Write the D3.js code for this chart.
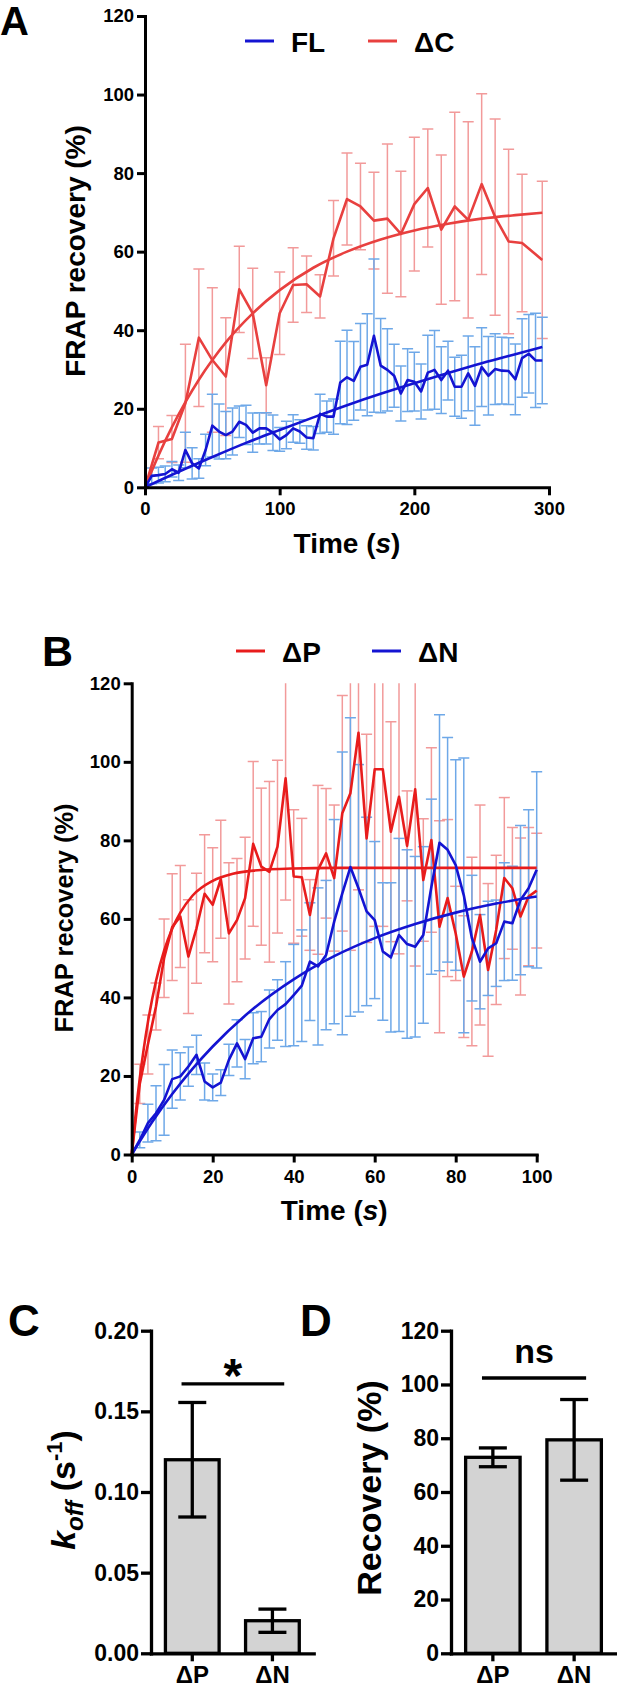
<!DOCTYPE html>
<html>
<head>
<meta charset="utf-8">
<script src="https://cdn.jsdelivr.net/npm/d3@7"></script>
<style>
body { margin: 0; background: #fff; }
text { font-family: "Liberation Sans", Arial, sans-serif; font-weight: bold; }
</style>
</head>
<body>
<div id="chart"></div>
<script>
// ---- panel A : FL vs deltaC, 0-300 s ----
var timeFL = [0,5,10,15,20,25,30,35,40,45,50,55,60,65,70,75,80,85,90,95,100,105,110,115,120,125,130,135,140,145,
              150,155,160,165,170,175,180,185,190,195,200,205,210,215,220,225,230,235,240,245,250,255,260,265,270,275,280,285,290,295];
var meanFL = [0,2.9,3.1,3.4,4.6,3.7,9.5,6.1,4.8,9.5,15.7,14.2,13.3,14.2,16.7,15.9,13.9,15.0,15.0,13.9,12.2,13.3,15.0,14.2,12.7,12.5,18.7,18.0,18.0,26.7,
              28.0,27.1,30.7,31.2,38.6,31.0,29.9,28.4,23.9,27.3,26.9,24.4,29.2,29.9,27.3,29.7,25.6,25.6,29.0,25.8,30.6,28.4,30.1,29.7,29.6,27.5,32.9,34.0,32.3,32.3];
var errFL  = [0,2,2,2,2,2,4.5,4,2.5,4,8,7,6,6,4,5,5,4,4,4.5,3,3.5,3.5,3,3,3,5,4,4.5,10.5,
              12,10,11,13,19.5,12,10.5,8,7,8,7.5,7,9.5,10,8.5,7.5,7.5,8,9.5,10,10,10,9,8.5,8.5,9,10,10,12,11];
var timeDC = [0,10,20,30,40,50,60,70,80,90,100,110,120,130,140,150,160,170,180,190,200,210,220,230,240,250,260,270,280,295];
var meanDC = [0,11.4,12.3,21.4,38.1,32.4,28.2,50.4,44.3,26,44.3,51.5,51.7,48.6,63.4,73.4,71.5,67.9,68.4,64.5,72.1,76.2,65.6,71.5,68.1,77.2,68.8,62.6,62.2,57.9];
var errDC  = [0,4.1,6,15,17.5,18.4,15,11,11.5,7,10.5,9.5,7.2,5.5,9.6,11.7,11,12.3,19,16,17,15,19,24,25,23,25,23.5,17.5,20];
var fitTimeFL = [0,25,50,75,100,125,150,175,200,225,250,275,295];
var fitFL     = [0,3.95,7.7,11.3,14.6,17.8,20.9,23.8,26.5,29.1,31.6,33.9,35.7];
var fitTimeDC = [0,10,20,30,40,50,60,80,100,125,150,175,200,225,250,275,295];
var fitDC     = [0,8.1,15.3,21.7,27.4,32.4,36.9,44.3,50.2,55.9,60.0,63.1,65.4,67.1,68.4,69.3,69.9];

// ---- panel B : deltaP vs deltaN, 0-100 s ----
var timeB = [0,2,4,6,8,10,12,14,16,18,20,22,24,26,28,30,32,34,36,38,40,42,44,46,48,50,
             52,54,56,58,60,62,64,66,68,70,72,74,76,78,80,82,84,86,88,90,92,94,96,98,100];
var meanDP = [0,18,28,37.7,50,57.9,60.6,50.4,57.6,66.4,63.6,70.1,56.3,59.7,65.3,79.1,73.3,72.0,78.4,95.8,70.8,70.6,61.0,72.5,76.7,70.4,
              86.9,92.0,107.4,80.5,98.1,98.1,82.2,91.1,78.6,93.0,69.9,80.1,58.0,65.3,56.3,45.3,51.7,61.0,47.0,57.2,70.4,67.8,60.6,65.7,67.2];
var errDP  = [0,5,7.5,6,10,13.6,13,14.5,14,15,14.5,15,18,15.7,15.5,21,20,23,22,31,17,15,9,21.5,16.5,18.6,
              30,40,40,26.5,40,40,28,40,14,45,15.6,23.5,27,20,12,15.5,24,28,22,19,20.5,15.5,20,17.6,14.6];
var meanDN = [0,3.7,8,10.5,13.9,19.2,19.9,22.4,25.4,18.6,17.1,18.3,24.1,28.3,24.3,29.6,30.0,34.5,36.8,38.3,40.6,43.0,49.1,47.9,50.8,59.3,
              66.5,73.2,67.8,61.9,59.7,51.7,50.2,55.9,53.6,52.9,55.9,68.2,79.4,77.6,73.7,66,55.1,49.1,52.5,53.8,59.3,58.9,64.8,67.8,72.5];
var errDN  = [0,2,4.8,7,9,7.4,6,5,5,4.7,3.4,3.3,4,6,5,6.5,6.4,7.4,7.7,10.8,12.9,14.2,15,20,19,26,
              36,38,31.5,24,20,17.5,19,24.6,24,23,22.5,22.3,32.6,28.6,26.8,35,16,12,12,11,15,14.5,19,20,25];
var fitTimeDP = [0,1,2,3,4,6,8,10,12,15,20,25,30,40,50,100];
var fitDP     = [0,10.5,19.5,27.1,33.7,44.2,51.9,57.5,61.6,65.9,69.7,71.5,72.3,72.85,73,73];
var fitTimeDN = [0,5,10,15,20,30,40,50,60,70,80,90,100];
var fitDN     = [0,8.2,15.4,21.8,27.5,37.1,44.6,50.5,55.1,58.7,61.6,63.9,65.7];

// ---- panels C and D : bar charts ----
var barGroups = ["\u0394P", "\u0394N"];
var koffMean = [0.120, 0.0202];
var koffErr  = [0.0355, 0.0072];
var recMean  = [72.9, 79.4];
var recErr   = [3.5, 15];
var sigLevels = [0.167, 102.4];   // height of the comparison bars in C and D
var sigLabels = ["*", "ns"];

var ticksA = [0, 100, 200, 300];
var ticksB = [0, 20, 40, 60, 80, 100];
var ticksY = [0, 20, 40, 60, 80, 100, 120];
var ticksKoff = [0, 0.05, 0.10, 0.15, 0.20];

var FONT = '"Liberation Sans", Arial, sans-serif';
var BLUE = "#1414d2", BLUE_ERR = "#6ea8e8";
var RED_A = "#e8403f", RED_B = "#e81c1c", RED_ERR = "#f29a9a";

var svg = d3.select("#chart").append("svg")
    .attr("width", 617).attr("height", 1690)
    .style("background", "#fff");

function styleAxis(g, fs, sw) {
    g.attr("font-family", null).attr("font-size", null);
    g.select(".domain").attr("stroke", "#000").attr("stroke-width", sw).attr("stroke-linecap", "square");
    g.selectAll(".tick line").attr("stroke", "#000").attr("stroke-width", sw);
    g.selectAll(".tick text").attr("fill", "#000")
        .style("font-family", FONT).style("font-size", fs + "px").style("font-weight", "bold");
}

function timeLabel(x, y) {
    var t = svg.append("text").attr("x", x).attr("y", y).attr("text-anchor", "middle")
        .style("font-size", "28px");
    t.append("tspan").text("Time (");
    t.append("tspan").style("font-style", "italic").text("s");
    t.append("tspan").text(")");
}

function linePanel(p) {
    var x = d3.scaleLinear().domain(p.xDomain).range(p.xRange);
    var y = d3.scaleLinear().domain([0, 120]).range(p.yRange);
    var g = svg.append("g");

    var clipId = "clip" + p.id;
    svg.append("clipPath").attr("id", clipId).append("rect")
        .attr("x", p.xRange[0] - 20).attr("y", p.yRange[1])
        .attr("width", p.xRange[1] - p.xRange[0] + 40).attr("height", p.yRange[0] - p.yRange[1] + 2);
    var plot = g.append("g").attr("clip-path", "url(#" + clipId + ")");

    // error bars first
    p.series.forEach(function (s) {
        var eb = plot.append("g").attr("stroke", s.errColor).attr("stroke-width", 1.5).attr("fill", "none");
        s.time.forEach(function (t, i) {
            if (s.err[i] <= 0) return;
            var cx = x(t), top = y(s.mean[i] + s.err[i]), bot = y(s.mean[i] - s.err[i]);
            eb.append("line").attr("x1", cx).attr("x2", cx).attr("y1", top).attr("y2", bot);
            eb.append("line").attr("x1", cx - 5.5).attr("x2", cx + 5.5).attr("y1", top).attr("y2", top);
            eb.append("line").attr("x1", cx - 5.5).attr("x2", cx + 5.5).attr("y1", bot).attr("y2", bot);
        });
    });

    var line = d3.line().x(function (d) { return x(d[0]); }).y(function (d) { return y(d[1]); });
    var fitLine = d3.line().curve(d3.curveMonotoneX)
        .x(function (d) { return x(d[0]); }).y(function (d) { return y(d[1]); });

    p.series.forEach(function (s) {
        plot.append("path").datum(d3.zip(s.time, s.mean)).attr("d", line)
            .attr("fill", "none").attr("stroke", s.color).attr("stroke-width", 2.6).attr("stroke-linejoin", "round");
        plot.append("path").datum(d3.zip(s.fitTime, s.fit)).attr("d", fitLine)
            .attr("fill", "none").attr("stroke", s.color).attr("stroke-width", 2.6);
    });

    var ax = g.append("g").attr("transform", "translate(0," + p.yRange[0] + ")")
        .call(d3.axisBottom(x).tickValues(p.xTicks).tickSize(8).tickSizeOuter(0).tickPadding(7));
    styleAxis(ax, 18.5, 3);
    var ay = g.append("g").attr("transform", "translate(" + p.xRange[0] + ",0)")
        .call(d3.axisLeft(y).tickValues(ticksY).tickSize(8).tickSizeOuter(0).tickPadding(3));
    styleAxis(ay, 18.5, 3);

    svg.append("text").attr("transform", "translate(" + p.yTitle[0] + "," + p.yTitle[1] + ") rotate(-90)")
        .attr("text-anchor", "middle").style("font-size", p.yTitle[2] + "px").text("FRAP recovery (%)");
    timeLabel((p.xRange[0] + p.xRange[1]) / 2, p.xTitleY);

    svg.append("text").attr("x", p.letter[0]).attr("y", p.letter[1]).style("font-size", p.letter[2] + "px").text(p.id);

    p.legend.forEach(function (l) {
        svg.append("line").attr("x1", l.x).attr("x2", l.x + 29).attr("y1", l.y).attr("y2", l.y)
            .attr("stroke", l.color).attr("stroke-width", 3);
        svg.append("text").attr("x", l.x + 46).attr("y", l.y + 11).style("font-size", "28px").text(l.label);
    });
}

linePanel({
    id: "A", xDomain: [0, 300], xRange: [145, 549], yRange: [487.3, 16], xTicks: ticksA,
    yTitle: [85, 251, 28], xTitleY: 553, letter: [0, 35, 40],
    series: [
        { time: timeDC, mean: meanDC, err: errDC, fitTime: fitTimeDC, fit: fitDC, color: RED_A, errColor: RED_ERR },
        { time: timeFL, mean: meanFL, err: errFL, fitTime: fitTimeFL, fit: fitFL, color: BLUE, errColor: BLUE_ERR }
    ],
    legend: [
        { x: 245, y: 41, color: BLUE, label: "FL" },
        { x: 368, y: 41, color: RED_A, label: "\u0394C" }
    ]
});

linePanel({
    id: "B", xDomain: [0, 100], xRange: [131.7, 536.7], yRange: [1154.5, 683.3], xTicks: ticksB,
    yTitle: [72.5, 918, 25.5], xTitleY: 1220, letter: [42, 666, 43],
    series: [
        { time: timeB, mean: meanDP, err: errDP, fitTime: fitTimeDP, fit: fitDP, color: RED_B, errColor: RED_ERR },
        { time: timeB, mean: meanDN, err: errDN, fitTime: fitTimeDN, fit: fitDN, color: BLUE, errColor: BLUE_ERR }
    ],
    legend: [
        { x: 236, y: 651, color: RED_B, label: "\u0394P" },
        { x: 372, y: 651, color: BLUE, label: "\u0394N" }
    ]
});

function barPanel(p) {
    var x = d3.scaleBand().domain(barGroups).range(p.xRange).paddingInner(0.33).paddingOuter(0.18);
    var y = d3.scaleLinear().domain(p.yDomain).range([1653.3, 1330.7]);
    var g = svg.append("g");
    var bw = x.bandwidth();

    g.selectAll("rect.bar").data(barGroups).enter().append("rect")
        .attr("x", function (d) { return x(d); })
        .attr("y", function (d, i) { return y(p.mean[i]); })
        .attr("width", bw)
        .attr("height", function (d, i) { return y(0) - y(p.mean[i]); })
        .attr("fill", "#d3d3d3").attr("stroke", "#000").attr("stroke-width", 3.3);

    barGroups.forEach(function (d, i) {
        var cx = x(d) + bw / 2, top = y(p.mean[i] + p.err[i]), bot = y(p.mean[i] - p.err[i]);
        var eb = g.append("g").attr("stroke", "#000").attr("stroke-width", 3.3);
        eb.append("line").attr("x1", cx).attr("x2", cx).attr("y1", top).attr("y2", bot);
        eb.append("line").attr("x1", cx - 14).attr("x2", cx + 14).attr("y1", top).attr("y2", top);
        eb.append("line").attr("x1", cx - 14).attr("x2", cx + 14).attr("y1", bot).attr("y2", bot);
    });

    var ax = g.append("g").attr("transform", "translate(0,1653.3)")
        .call(d3.axisBottom(x).tickSize(8).tickSizeOuter(0).tickPadding(5));
    styleAxis(ax, 24, 3.3);
    var ay = g.append("g").attr("transform", "translate(" + p.xRange[0] + ",0)")
        .call(d3.axisLeft(y).tickValues(p.ticks).tickSize(10).tickSizeOuter(0).tickPadding(2).tickFormat(p.fmt));
    styleAxis(ay, 23, 3.3);

    // comparison bar and label
    var sx1 = x(barGroups[0]) + bw * 0.3, sx2 = x(barGroups[1]) + bw * 0.72, sy = y(p.sig);
    g.append("line").attr("x1", sx1).attr("x2", sx2).attr("y1", sy).attr("y2", sy)
        .attr("stroke", "#000").attr("stroke-width", 3.3);
    g.append("text").attr("x", (sx1 + sx2) / 2).attr("y", sy + p.sigDy).attr("text-anchor", "middle")
        .style("font-size", p.sigSize + "px").text(p.sigLabel);

    svg.append("text").attr("x", p.letterX).attr("y", 1336).style("font-size", "44px").text(p.id);
}

barPanel({
    id: "C", xRange: [151, 313.7], yDomain: [0, 0.20], ticks: ticksKoff, fmt: d3.format(".2f"),
    mean: koffMean, err: koffErr, sig: sigLevels[0], sigLabel: sigLabels[0], sigSize: 48, sigDy: 8, letterX: 8
});
barPanel({
    id: "D", xRange: [451, 616], yDomain: [0, 120], ticks: ticksY, fmt: d3.format("d"),
    mean: recMean, err: recErr, sig: sigLevels[1], sigLabel: sigLabels[1], sigSize: 34, sigDy: -15, letterX: 300
});

// y titles of C and D
var tc = svg.append("text").attr("transform", "translate(75,1490) rotate(-90)")
    .attr("text-anchor", "middle").style("font-size", "34px");
tc.append("tspan").style("font-style", "italic").text("k");
tc.append("tspan").style("font-style", "italic").style("font-size", "24px").attr("dy", 8).text("off");
tc.append("tspan").attr("dy", -8).text(" (s");
tc.append("tspan").style("font-size", "22px").attr("dy", -13).text("-1");
tc.append("tspan").attr("dy", 13).text(")");

svg.append("text").attr("transform", "translate(381,1488) rotate(-90)")
    .attr("text-anchor", "middle").style("font-size", "34px").text("Recovery (%)");
</script>
</body>
</html>
